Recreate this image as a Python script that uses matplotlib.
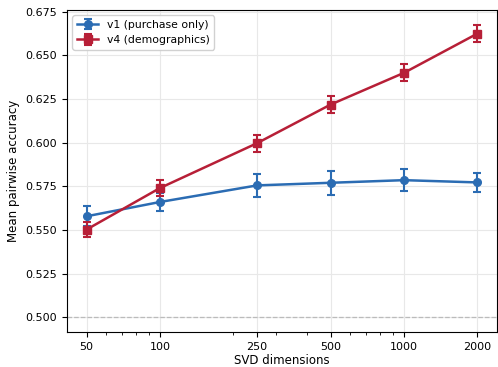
import matplotlib
matplotlib.use("Agg")
import matplotlib.pyplot as plt
import numpy as np

dims = [50, 100, 250, 500, 1000, 2000]
v1_mean = [0.5578, 0.5660, 0.5755, 0.5770, 0.5785, 0.5772]
v1_err = [0.0057, 0.0050, 0.0065, 0.0070, 0.0063, 0.0055]
v4_mean = [0.5502, 0.5740, 0.5997, 0.6218, 0.6400, 0.6625]
v4_err = [0.0045, 0.0045, 0.0048, 0.0048, 0.0048, 0.0050]
tick_labels = ["50", "100", "250", "500", "1000", "2000"]

blue = "#2b6cb3"
red = "#b71f37"

fig = plt.figure(figsize=(4.98, 3.67), dpi=100)
ax = fig.add_axes([67/498, 1 - 332/367, (497-67)/498, (332-10)/367])

ax.errorbar(dims, v1_mean, yerr=v1_err, color=blue, marker="o", markersize=5.5,
            linewidth=1.8, capsize=3, elinewidth=1.5, capthick=1.5,
            label="v1 (purchase only)")
ax.errorbar(dims, v4_mean, yerr=v4_err, color=red, marker="s", markersize=5.5,
            linewidth=1.8, capsize=3, elinewidth=1.5, capthick=1.5,
            label="v4 (demographics)")
ax.axhline(0.5, color="#bbbbbb", linestyle="--", linewidth=0.9)

ax.set_xscale("log")
ax.set_xticks(dims)
ax.set_xticklabels(tick_labels)
ax.set_ylim(0.4915, 0.676)
ax.set_yticks([0.500, 0.525, 0.550, 0.575, 0.600, 0.625, 0.650, 0.675])
ax.yaxis.set_major_formatter(matplotlib.ticker.FormatStrFormatter("%.3f"))
ax.grid(True, which="major", color="#e8e8e8", linewidth=0.8)
ax.set_axisbelow(True)
ax.tick_params(labelsize=8)
ax.set_xlabel("SVD dimensions", fontsize=8.5, labelpad=1.5)
ax.set_ylabel("Mean pairwise accuracy", fontsize=8.5, labelpad=4)
ax.legend(loc="upper left", fontsize=7.8, framealpha=0.9)

fig.savefig("out.png", dpi=100)
